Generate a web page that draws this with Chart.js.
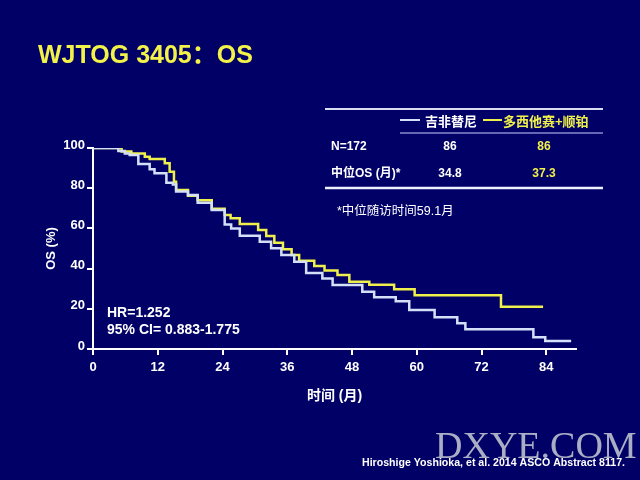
<!DOCTYPE html>
<html>
<head>
<meta charset="utf-8">
<script src="https://cdn.jsdelivr.net/npm/chart.js@4"></script>
<style>
  html, body { margin: 0; padding: 0; background: #000066; }
</style>
</head>
<body>
<canvas id="osChart" width="640" height="480"></canvas>
<script>
// Kaplan-Meier steps (months, OS %)
const gefMonths = [0, 4.7, 5.9, 6.8, 8.4, 10.5, 11.4, 13.6, 14.8, 15.4, 17.6, 19.4, 22.0, 24.4, 25.6, 27.2, 30.9, 33.0, 34.9, 37.3, 39.5, 42.5, 44.4, 49.9, 52.1, 56.1, 58.6, 63.3, 67.5, 69.0, 81.6, 83.8, 88.6];
const gefOS     = [100, 98.5, 97.3, 96.5, 92.0, 89.4, 87.4, 82.7, 81.9, 78.3, 76.6, 72.8, 69.2, 62.0, 60.0, 56.4, 53.4, 50.1, 46.8, 43.4, 37.8, 35.1, 31.8, 28.5, 25.7, 23.8, 19.4, 15.8, 12.8, 9.8, 5.8, 4.0, 4.0];

const docMonths = [0, 5.3, 7.1, 9.6, 10.5, 13.3, 14.2, 15.0, 15.4, 17.6, 19.4, 22.0, 24.4, 25.5, 27.2, 30.6, 32.1, 33.6, 35.2, 36.8, 38.2, 41.0, 42.9, 45.3, 47.5, 51.2, 55.8, 59.6, 75.6, 83.4];
const docOS     = [100, 98.2, 97.3, 95.7, 94.5, 92.4, 88.2, 83.2, 79.1, 76.2, 74.0, 69.8, 66.7, 65.0, 62.2, 59.2, 56.2, 52.9, 49.6, 46.8, 43.9, 41.3, 39.0, 36.8, 33.5, 32.0, 29.7, 26.7, 21.0, 21.0];

const xTicks = [0, 12, 24, 36, 48, 60, 72, 84];
const yTicks = [0, 20, 40, 60, 80, 100];

const seriesNames = ['吉非替尼', '多西他赛+顺铂'];
const nRow = ['N=172', '86', '86'];
const medianRow = ['中位OS (月)*', '34.8', '37.3'];
const footnote = '*中位随访时间59.1月';
const hrLines = ['HR=1.252', '95% CI= 0.883-1.775'];
const titleText = 'WJTOG 3405：OS';
const sourceText = 'Hiroshige Yoshioka, et al. 2014 ASCO Abstract 8117.';

const bg = '#000066';
const gefColor = '#d4e0fa';
const docColor = '#f0f04c';
const FONT = '"Liberation Sans", Arial, "Noto Sans CJK SC", sans-serif';

function toPoints(xs, ys) {
    return xs.map((x, i) => ({ x: x, y: ys[i] }));
}

// background, title, table and notes drawn around the plot
const slideDecor = {
    id: 'slideDecor',
    beforeDraw(chart) {
        const ctx = chart.ctx;
        ctx.save();
        ctx.fillStyle = bg;
        ctx.fillRect(0, 0, chart.width, chart.height);
        ctx.restore();
    },
    afterDraw(chart) {
        const ctx = chart.ctx;
        ctx.save();

        // title
        ctx.fillStyle = '#f2f24a';
        ctx.font = 'bold 25px ' + FONT;
        ctx.textAlign = 'left';
        ctx.textBaseline = 'alphabetic';
        ctx.fillText(titleText, 38, 63);

        // table rules
        ctx.strokeStyle = '#d8dcf0';
        ctx.lineWidth = 2;
        ctx.beginPath(); ctx.moveTo(325, 109); ctx.lineTo(603, 109); ctx.stroke();
        ctx.lineWidth = 2.5;
        ctx.strokeStyle = '#eef0ff';
        ctx.beginPath(); ctx.moveTo(325, 188); ctx.lineTo(603, 188); ctx.stroke();
        ctx.lineWidth = 1.5;
        ctx.strokeStyle = '#8a8ad0';
        ctx.beginPath(); ctx.moveTo(400, 133); ctx.lineTo(603, 133); ctx.stroke();

        // legend header
        ctx.lineWidth = 2;
        ctx.strokeStyle = gefColor;
        ctx.beginPath(); ctx.moveTo(400, 120); ctx.lineTo(420, 120); ctx.stroke();
        ctx.strokeStyle = docColor;
        ctx.beginPath(); ctx.moveTo(483, 120); ctx.lineTo(502, 120); ctx.stroke();
        ctx.font = 'bold 13px ' + FONT;
        ctx.textBaseline = 'middle';
        ctx.fillStyle = '#ffffff';
        ctx.fillText(seriesNames[0], 425, 122);
        ctx.fillStyle = docColor;
        ctx.fillText(seriesNames[1], 503, 122);

        // rows
        ctx.font = 'bold 12px ' + FONT;
        [[nRow, 147], [medianRow, 174]].forEach(([row, y]) => {
            ctx.textAlign = 'left';
            ctx.fillStyle = '#ffffff';
            ctx.fillText(row[0], 331, y);
            ctx.textAlign = 'center';
            ctx.fillText(row[1], 450, y);
            ctx.fillStyle = docColor;
            ctx.fillText(row[2], 544, y);
        });

        // footnote
        ctx.textAlign = 'left';
        ctx.fillStyle = '#ffffff';
        ctx.font = '12.5px ' + FONT;
        ctx.fillText(footnote, 337, 212);

        // hazard ratio
        ctx.font = 'bold 14px ' + FONT;
        ctx.fillText(hrLines[0], 107, 313);
        ctx.fillText(hrLines[1], 107, 330);

        // watermark + source
        ctx.font = '38px "Liberation Serif", serif';
        ctx.textBaseline = 'alphabetic';
        ctx.fillStyle = 'rgba(200, 204, 214, 0.85)';
        ctx.fillText('DXYE.COM', 435, 458);
        ctx.font = 'bold 11px ' + FONT;
        ctx.textBaseline = 'middle';
        ctx.fillStyle = '#ffffff';
        ctx.fillText(sourceText, 362, 463, 263);

        ctx.restore();
    }
};

const ctx = document.getElementById('osChart').getContext('2d');
new Chart(ctx, {
    type: 'line',
    data: {
        datasets: [
            {
                label: seriesNames[0],
                data: toPoints(gefMonths, gefOS),
                borderColor: gefColor,
                borderWidth: 2.5,
                stepped: 'before',
                pointRadius: 0,
                fill: false
            },
            {
                label: seriesNames[1],
                data: toPoints(docMonths, docOS),
                borderColor: docColor,
                borderWidth: 2.5,
                stepped: 'before',
                pointRadius: 0,
                fill: false
            }
        ]
    },
    options: {
        responsive: false,
        animation: false,
        layout: { padding: { left: 0, right: 64, top: 148, bottom: 0 } },
        plugins: {
            legend: { display: false },
            tooltip: { enabled: false }
        },
        scales: {
            x: {
                type: 'linear',
                min: 0,
                max: 89.5,
                afterBuildTicks: scale => { scale.ticks = xTicks.map(v => ({ value: v })); },
                afterFit: scale => { scale.height = 131; },
                border: { display: true, color: '#ffffff', width: 2 },
                grid: { drawOnChartArea: false, drawTicks: true, tickLength: 6, color: '#ffffff', lineWidth: 2 },
                ticks: { color: '#ffffff', padding: 5, font: { family: FONT, size: 13, weight: 'bold' } },
                title: {
                    display: true,
                    text: '时间 (月)',
                    color: '#ffffff',
                    font: { family: FONT, size: 14, weight: 'bold' },
                    padding: { top: 0, bottom: 75 }
                }
            },
            y: {
                min: 0,
                max: 100,
                afterBuildTicks: scale => { scale.ticks = yTicks.map(v => ({ value: v })); },
                afterFit: scale => { scale.width = 93; },
                border: { display: true, color: '#ffffff', width: 2 },
                grid: { drawOnChartArea: false, drawTicks: true, tickLength: 6, color: '#ffffff', lineWidth: 2 },
                ticks: { color: '#ffffff', padding: 2, labelOffset: -3, font: { family: FONT, size: 13, weight: 'bold' } },
                title: {
                    display: true,
                    text: 'OS (%)',
                    color: '#ffffff',
                    font: { family: FONT, size: 13, weight: 'bold' },
                    padding: { top: 44, bottom: 0 }
                }
            }
        }
    },
    plugins: [slideDecor]
});
</script>
</body>
</html>
